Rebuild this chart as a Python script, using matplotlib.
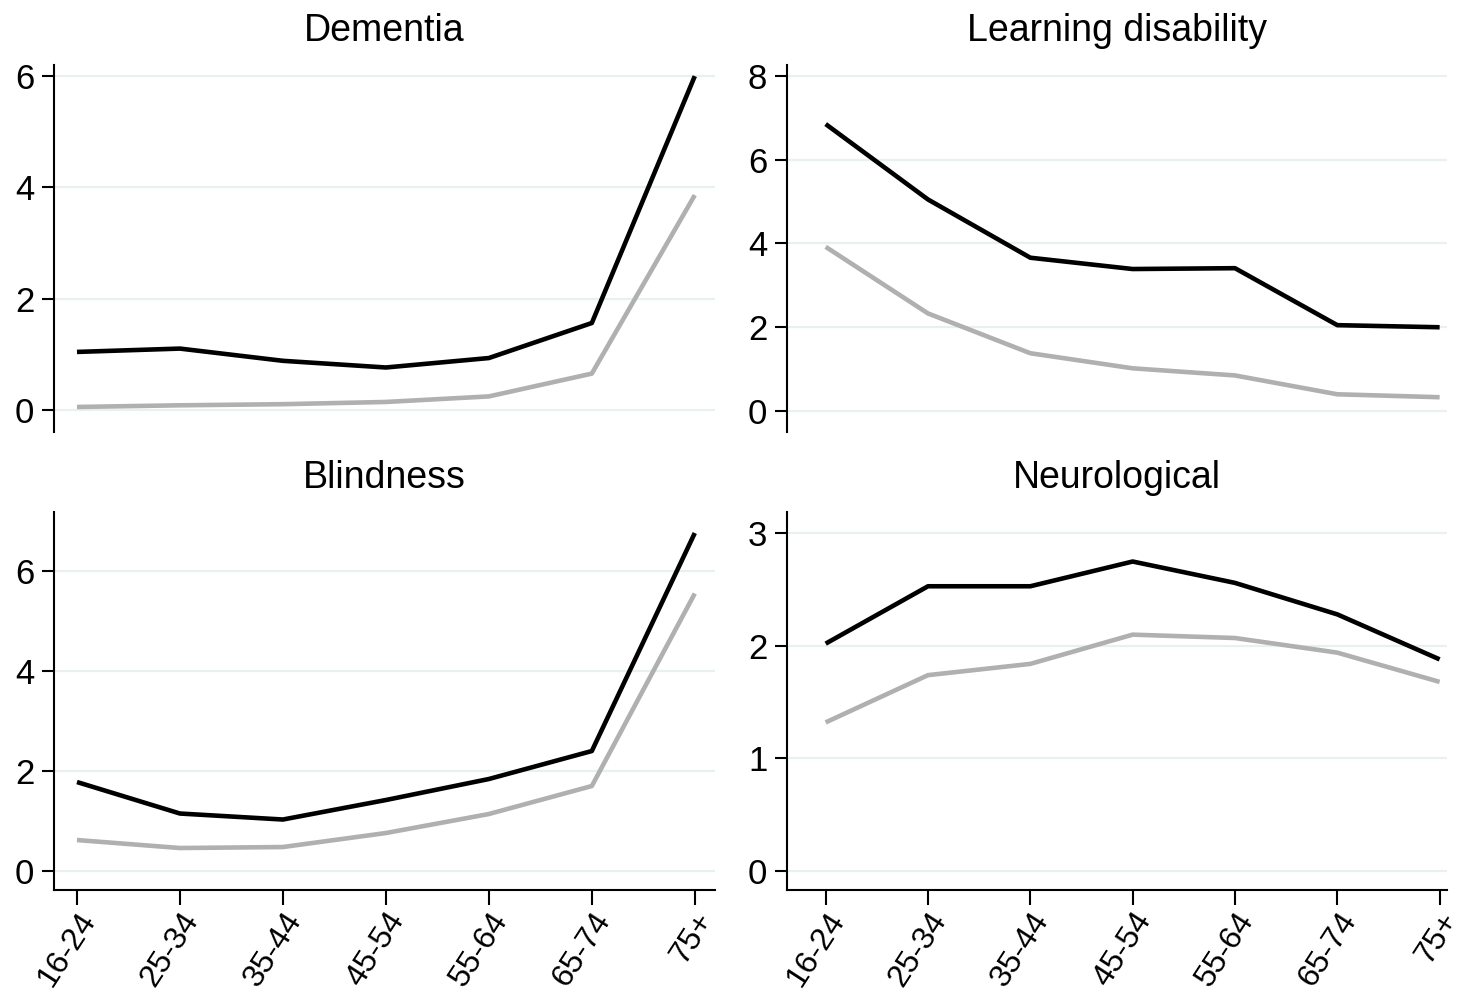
import matplotlib
matplotlib.use("Agg")
import matplotlib.pyplot as plt

plt.rcParams['font.family'] = ['Liberation Sans', 'DejaVu Sans']

ages = ["16-24", "25-34", "35-44", "45-54", "55-64", "65-74", "75+"]

dementia_a = [1.04, 1.10, 0.88, 0.76, 0.93, 1.56, 6.0]
dementia_b = [0.05, 0.08, 0.10, 0.14, 0.24, 0.65, 3.86]

learning_a = [6.85, 5.05, 3.66, 3.39, 3.41, 2.05, 2.0]
learning_b = [3.92, 2.33, 1.38, 1.02, 0.85, 0.40, 0.33]

blind_a = [1.78, 1.15, 1.03, 1.42, 1.84, 2.40, 6.76]
blind_b = [0.62, 0.46, 0.48, 0.76, 1.14, 1.70, 5.55]

neuro_a = [2.02, 2.53, 2.53, 2.75, 2.56, 2.28, 1.88]
neuro_b = [1.32, 1.74, 1.84, 2.10, 2.07, 1.94, 1.68]

panels = [
    ("Dementia", dementia_a, dementia_b, [0, 2, 4, 6], (-0.4, 6.2)),
    ("Learning disability", learning_a, learning_b, [0, 2, 4, 6, 8], (-0.5, 8.26)),
    ("Blindness", blind_a, blind_b, [0, 2, 4, 6], (-0.38, 7.18)),
    ("Neurological", neuro_a, neuro_b, [0, 1, 2, 3], (-0.17, 3.19)),
]

# [left, bottom, width, height] in figure fractions
boxes = [
    [0.037, 0.5654, 0.454, 0.3692],
    [0.540, 0.5654, 0.453, 0.3692],
    [0.037, 0.1046, 0.454, 0.3803],
    [0.540, 0.1046, 0.453, 0.3803],
]
xlims = [(-0.224, 6.2), (-0.38, 6.07), (-0.224, 6.2), (-0.38, 6.07)]

fig = plt.figure(figsize=(14.57, 9.94), dpi=100)
x = list(range(len(ages)))

for i, (title, a, b, yt, yl) in enumerate(panels):
    ax = fig.add_axes(boxes[i])
    for yv in yt:
        ax.axhline(yv, color="#e8f0f2", lw=1.6, zorder=0)
    ax.plot(x, b, color="#b0b0b0", lw=3.3, solid_capstyle="butt", zorder=2)
    ax.plot(x, a, color="black", lw=3.3, solid_capstyle="butt", zorder=3)
    ax.set_ylim(*yl)
    ax.set_xlim(*xlims[i])
    ax.set_yticks(yt)
    ax.set_title(title, fontsize=27, pad=17)
    for s in ["top", "right"]:
        ax.spines[s].set_visible(False)
    ax.spines["left"].set_linewidth(1.5)
    ax.spines["bottom"].set_linewidth(1.5)
    ax.tick_params(axis="y", length=9, width=1.5, labelsize=25, pad=5)
    if i < 2:
        ax.spines["bottom"].set_visible(False)
        ax.set_xticks([])
    else:
        ax.set_xticks(x)
        ax.set_xticklabels(ages, rotation=57, ha="right", va="top",
                           rotation_mode="anchor")
        ax.tick_params(axis="x", length=11, width=1.5, labelsize=23, pad=1)

fig.savefig("out.png", dpi=100)
